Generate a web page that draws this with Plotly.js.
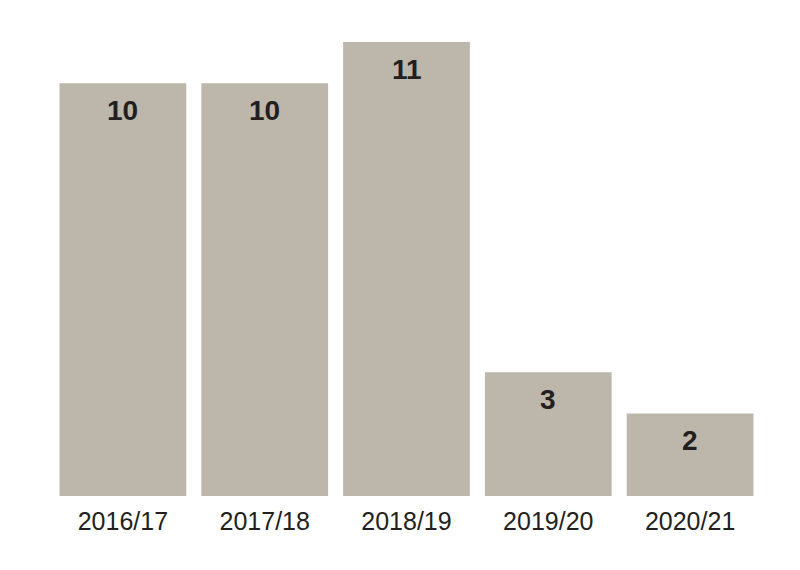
<!DOCTYPE html>
<html>
<head>
<meta charset="utf-8">
<script src="https://cdn.plot.ly/plotly-3.0.1.min.js"></script>
<style>html,body{margin:0;padding:0;background:#fff;}#chart{width:800px;height:570px;}</style>
</head>
<body>
<div id="chart"></div>
<script>
const categories = ["2016/17", "2017/18", "2018/19", "2019/20", "2020/21"];
const values = [10, 10, 11, 3, 2];

const barColor = "#bdb6aa";
const textColor = "#231f20";

const trace = {
  type: "bar",
  x: categories,
  y: values,
  marker: {color: barColor, line: {width: 0}},
  hoverinfo: "none"
};

const annotations = categories.map((c, i) => ({
  x: c,
  y: values[i],
  xref: "x",
  yref: "y",
  text: String(values[i]),
  showarrow: false,
  yanchor: "top",
  yshift: -10,
  font: {family: "Liberation Sans, Arial, sans-serif", size: 28, color: textColor, weight: 700}
}));

const layout = {
  width: 800,
  height: 570,
  margin: {l: 51.5, r: 38.5, t: 42, b: 74},
  paper_bgcolor: "#ffffff",
  plot_bgcolor: "#ffffff",
  bargap: 0.106,
  showlegend: false,
  xaxis: {
    type: "category",
    range: [-0.5, 4.5],
    showgrid: false,
    zeroline: false,
    showline: false,
    ticks: "outside",
    ticklen: 3,
    tickcolor: "rgba(0,0,0,0)",
    tickfont: {family: "Liberation Sans, Arial, sans-serif", size: 25, color: textColor}
  },
  yaxis: {
    range: [0, 11],
    visible: false,
    showgrid: false,
    zeroline: false
  },
  annotations: annotations
};

Plotly.newPlot("chart", [trace], layout, {displayModeBar: false, staticPlot: true});
</script>
</body>
</html>
